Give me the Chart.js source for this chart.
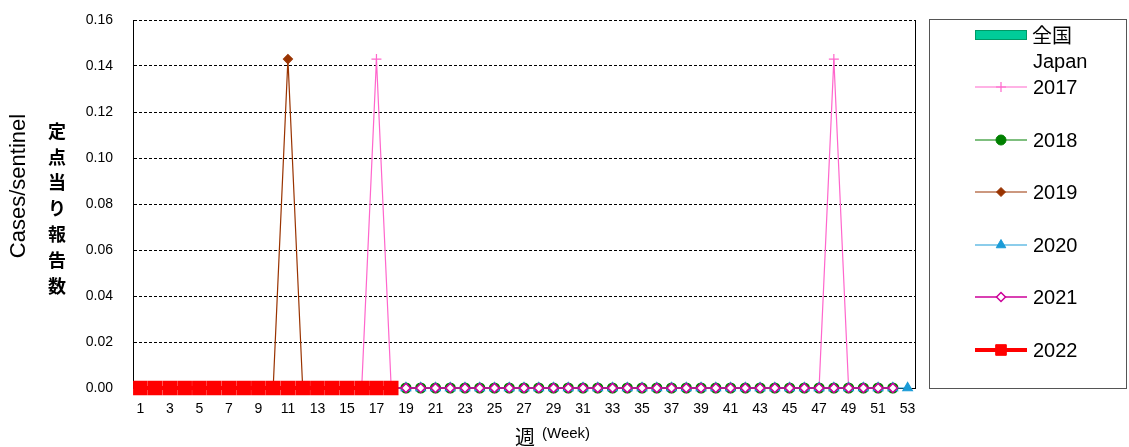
<!DOCTYPE html>
<html><head><meta charset="utf-8">
<script src="https://cdn.jsdelivr.net/npm/chart.js@4"></script>
<style>html,body{margin:0;padding:0;background:#fff}#wrap{width:1129px;height:447px;position:relative}</style>
</head><body><div id="wrap"><canvas id="c" width="1129" height="447"></canvas></div>
<script>
const weeks = Array.from({length:53},(_,i)=>String(i+1));
const yTicks = [0,0.02,0.04,0.06,0.08,0.10,0.12,0.14,0.16];
const legendHeader = ['全国','Japan'];
const yTitleEn = 'Cases/sentinel';
const yTitleJa = '定点当り報告数';
const xTitle = '週';
const xTitleEn = '(Week)';
const s2017 = [0,0,0,0,0,0,0,0,0,0,0,0,0,0,0,0,0.143,0,0,0,0,0,0,0,0,0,0,0,0,0,0,0,0,0,0,0,0,0,0,0,0,0,0,0,0,0,0,0.143,0,0,0,0];
const s2018 = [0,0,0,0,0,0,0,0,0,0,0,0,0,0,0,0,0,0,0,0,0,0,0,0,0,0,0,0,0,0,0,0,0,0,0,0,0,0,0,0,0,0,0,0,0,0,0,0,0,0,0,0];
const s2019 = [0,0,0,0,0,0,0,0,0,0,0.143,0,0,0,0,0,0,0,0,0,0,0,0,0,0,0,0,0,0,0,0,0,0,0,0,0,0,0,0,0,0,0,0,0,0,0,0,0,0,0,0,0];
const s2020 = [0,0,0,0,0,0,0,0,0,0,0,0,0,0,0,0,0,0,0,0,0,0,0,0,0,0,0,0,0,0,0,0,0,0,0,0,0,0,0,0,0,0,0,0,0,0,0,0,0,0,0,0,0];
const s2021 = [0,0,0,0,0,0,0,0,0,0,0,0,0,0,0,0,0,0,0,0,0,0,0,0,0,0,0,0,0,0,0,0,0,0,0,0,0,0,0,0,0,0,0,0,0,0,0,0,0,0,0,0];
const s2022 = [0,0,0,0,0,0,0,0,0,0,0,0,0,0,0,0,0,0];

const LAT = '"Liberation Sans", Arial, sans-serif';
const CJK = '"Noto Sans CJK JP", sans-serif';

const datasets = [
 {label:'2017',data:s2017,borderColor:'#FF66CC',backgroundColor:'#FF66CC',pointStyle:'cross',pointRadius:5,borderWidth:1.2,pointBorderWidth:1.2,order:5},
 {label:'2018',data:s2018,borderColor:'#008000',backgroundColor:'#008000',pointStyle:'circle',pointRadius:5,borderWidth:1.2,order:4},
 {label:'2019',data:s2019,borderColor:'#993300',backgroundColor:'#993300',pointStyle:'rectRot',pointRadius:4.5,borderWidth:1.2,order:3},
 {label:'2020',data:s2020,borderColor:'#1A9BD7',backgroundColor:'#1A9BD7',pointStyle:'triangle',pointRadius:5.5,borderWidth:1.2,order:2},
 {label:'2021',data:s2021,borderColor:'#CC0099',backgroundColor:'#FFFFFF',pointStyle:'rectRot',pointRadius:4.5,borderWidth:1.5,pointBorderWidth:1.5,order:1},
 {label:'2022',data:s2022,borderColor:'#FF0000',backgroundColor:'#FF0000',pointStyle:'rect',pointRadius:7.5,borderWidth:4,order:0},
];
datasets.forEach(d=>{d.tension=0;d.pointHoverRadius=d.pointRadius;d.fill=false;d.clip=false;});

const deco = {
 id:'deco',
 afterDraw(chart){
  const ctx=chart.ctx, a=chart.chartArea;
  ctx.save();
  ctx.strokeStyle='#000';ctx.lineWidth=1;ctx.setLineDash([]);
  ctx.beginPath();ctx.moveTo(Math.round(a.right)+0.5,a.top);ctx.lineTo(Math.round(a.right)+0.5,a.bottom);ctx.stroke();
  ctx.strokeStyle='#555';
  ctx.strokeRect(929.5,19.5,197,369);
  ctx.textBaseline='middle';ctx.textAlign='left';ctx.fillStyle='#000';
  ctx.fillStyle='#00CC99';ctx.fillRect(975,30,52,10);
  ctx.strokeStyle='#009966';ctx.lineWidth=1;ctx.strokeRect(975.5,30.5,51,9);
  ctx.fillStyle='#000';
  ctx.font='20px '+CJK;ctx.fillText(legendHeader[0],1032,35);
  ctx.font='20px '+LAT;ctx.fillText(legendHeader[1],1033,62);
  const ys=[87,140,192,245,297,350];
  chart.data.datasets.forEach((d,i)=>{
    const y=ys[i];
    ctx.strokeStyle=d.borderColor;ctx.lineWidth=d.borderWidth;
    ctx.beginPath();ctx.moveTo(975,y);ctx.lineTo(1027,y);ctx.stroke();
    ctx.save();
    ctx.fillStyle=d.backgroundColor;ctx.strokeStyle=d.borderColor;ctx.lineWidth=d.pointBorderWidth||1;
    ctx.beginPath();
    Chart.helpers.drawPoint(ctx,{pointStyle:d.pointStyle,radius:d.pointRadius,borderWidth:d.pointBorderWidth||1,rotation:0},1001,y);
    ctx.restore();
    ctx.fillStyle='#000';ctx.font='20px '+LAT;ctx.fillText(d.label,1033,y+1);
  });
  ctx.save();ctx.translate(19,186);ctx.rotate(-Math.PI/2);
  ctx.textAlign='center';ctx.font='22px '+LAT;ctx.fillText(yTitleEn,0,0);ctx.restore();
  ctx.font='bold 18px '+CJK;ctx.textAlign='center';
  [...yTitleJa].forEach((ch,i)=>ctx.fillText(ch,57,131+i*25.8));
  ctx.textAlign='left';ctx.font='20px '+CJK;ctx.fillText(xTitle,515,437);
  ctx.font='15px '+LAT;ctx.fillText(xTitleEn,542,434);
  ctx.restore();
 }
};

new Chart(document.getElementById('c'),{
 type:'line',
 data:{labels:weeks,datasets},
 options:{
  responsive:false,animation:false,
  layout:{padding:{left:0,right:214,top:20,bottom:0}},
  plugins:{legend:{display:false},tooltip:{enabled:false},title:{display:false}},
  scales:{
   x:{type:'category',offset:true,
      grid:{display:false,drawTicks:false},
      border:{display:true,color:'#000'},
      ticks:{autoSkip:false,maxRotation:0,padding:13,color:'#000',font:{family:LAT,size:14},
        callback:(v,i)=> i%2===0 ? weeks[i] : ''},
      afterFit:s=>{s.height=59;s.paddingLeft=0;s.paddingRight=0;}},
   y:{min:0,max:0.16,
      afterBuildTicks:s=>{s.ticks=yTicks.map(v=>({value:v}));},
      grid:{color:'#000',lineWidth:1,drawTicks:false},
      border:{display:true,color:'#000',dash:[3,2]},
      ticks:{padding:20,color:'#000',font:{family:LAT,size:14},callback:v=>v.toFixed(2)},
      afterFit:s=>{s.width=133;s.paddingTop=0;s.paddingBottom=0;}}
  }
 },
 plugins:[deco]
});
</script></body></html>
